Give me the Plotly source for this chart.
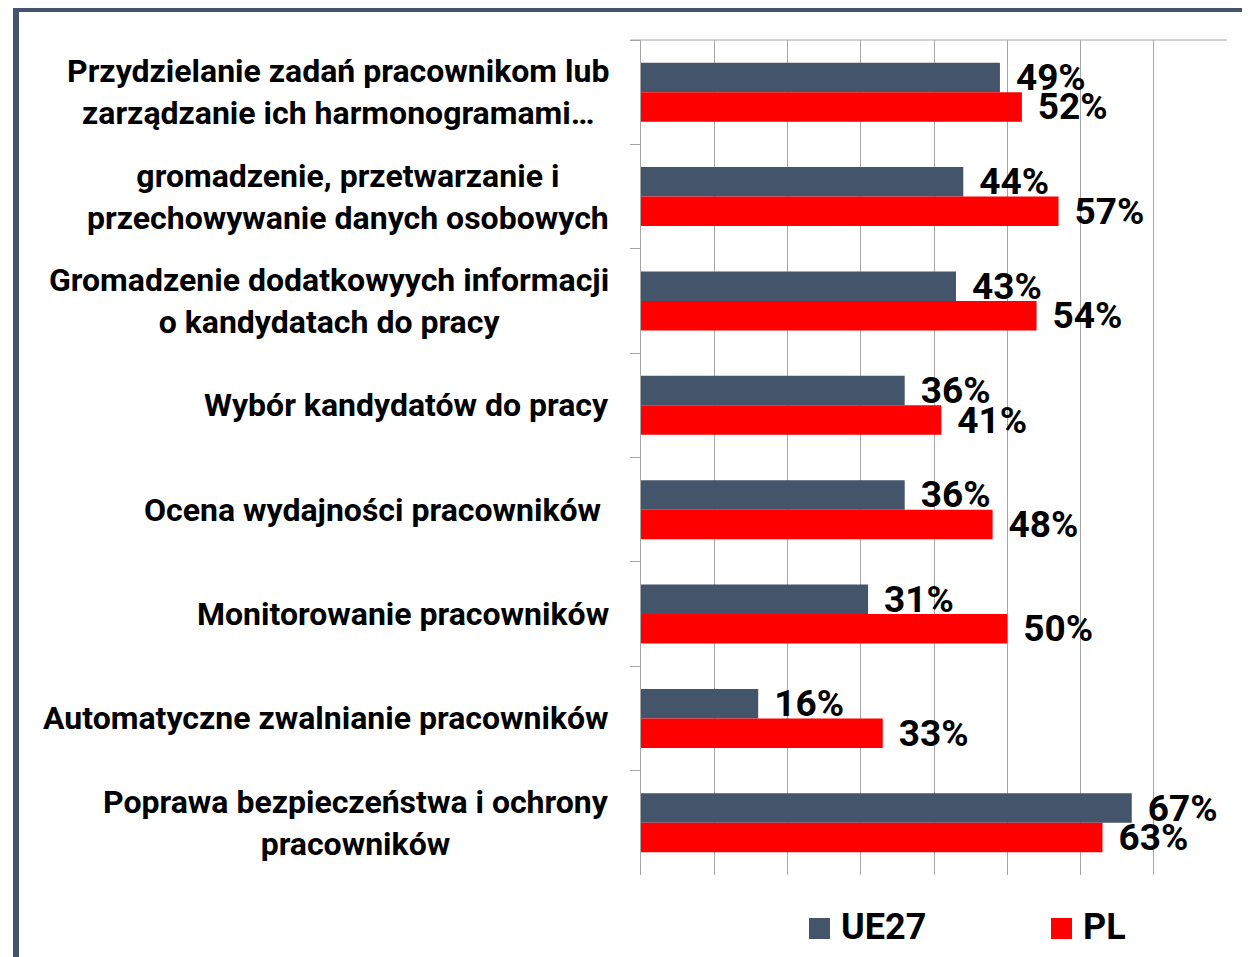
import plotly.graph_objects as go

# Data
CATS = [
    "Przydzielanie zadań pracownikom lub<br>zarządzanie ich harmonogramami…",
    "gromadzenie, przetwarzanie i<br>przechowywanie danych osobowych",
    "Gromadzenie dodatkowyych informacji<br>o kandydatach do pracy",
    "Wybór kandydatów do pracy",
    "Ocena wydajności pracowników ",
    "Monitorowanie pracowników",
    "Automatyczne zwalnianie pracowników",
    "Poprawa bezpieczeństwa i ochrony<br>pracowników",
]
UE27 = [49, 44, 43, 36, 36, 31, 16, 67]
PL = [52, 57, 54, 41, 48, 50, 33, 63]
SERIES = ["UE27", "PL"]

SLATE = "#44546A"
RED = "#FF0000"
GRID = "#A6A6A6"
FONT = "Roboto"

# page has an 8px body margin, so the figure is a bit smaller than the window
OFF = 8
W, H = 1250 - OFF, 957 - OFF
PX0, PX1, PY0, PY1 = 641, 1227, 40, 875   # plot area in window pixels
L, R, T, B = PX0 - OFF, W + OFF - PX1, PY0 - OFF, H + OFF - PY1


def fx(x):
    return (x - PX0) / (PX1 - PX0)


def fy(y):
    return (PY1 - y) / (PY1 - PY0)


fig = go.Figure()
for name, vals, clr in [("UE27", UE27, SLATE), ("PL", PL, RED)]:
    fig.add_trace(go.Bar(
        x=vals, y=CATS, name=name, orientation="h",
        marker=dict(color=clr, line=dict(width=0)),
        text=[f"\u00a0\u200a{v}%" for v in vals],
        textposition="outside",
        textfont=dict(family=FONT, size=37, color="black", weight="bold"),
        constraintext="none",
        cliponaxis=False,
        showlegend=False,
    ))

# category labels: right-aligned block, centered lines
for c in CATS:
    fig.add_annotation(
        x=fx(611), xref="paper", y=c, yref="y",
        text=c, showarrow=False,
        xanchor="right", yanchor="middle", align="center",
        font=dict(family=FONT, size=32, color="black", weight="bold"),
    )

# legend drawn by hand
leg = [(SERIES[0], SLATE, 809, 839), (SERIES[1], RED, 1051, 1081)]
for name, clr, sx, tx in leg:
    fig.add_shape(type="rect", xref="paper", yref="paper",
                  x0=fx(sx), x1=fx(sx + 21), y0=fy(939), y1=fy(918),
                  fillcolor=clr, line=dict(width=0))
    fig.add_annotation(x=fx(tx), xref="paper", y=fy(927), yref="paper",
                       text=name, showarrow=False, xanchor="left", yanchor="middle",
                       font=dict(family=FONT, size=36, color="black", weight="bold"))

# top line of plot area
fig.add_shape(type="line", xref="paper", yref="paper",
              x0=fx(631), x1=1, y0=1, y1=1,
              line=dict(color=GRID, width=1))

# outer frame (left + top)
fig.add_shape(type="line", xref="paper", yref="paper",
              x0=fx(16), x1=fx(16), y0=fy(965), y1=fy(6),
              line=dict(color=SLATE, width=6))
fig.add_shape(type="line", xref="paper", yref="paper",
              x0=fx(13), x1=fx(1260), y0=fy(9), y1=fy(9),
              line=dict(color=SLATE, width=6))

fig.update_layout(
    width=W, height=H,
    margin=dict(l=L, r=R, t=T, b=B),
    paper_bgcolor="white", plot_bgcolor="white",
    barmode="group", bargap=0.435, bargroupgap=0,
    showlegend=False,
    font=dict(family=FONT),
)
fig.update_xaxes(range=[0, 80], dtick=10, showticklabels=False,
                 showgrid=True, gridcolor=GRID, gridwidth=1,
                 zeroline=False, showline=False, fixedrange=True)
fig.update_yaxes(autorange="reversed", showticklabels=False,
                 showgrid=False, showline=True, linecolor=GRID, linewidth=1,
                 ticks="outside", ticklen=10, tickcolor=GRID, tickson="boundaries",
                 fixedrange=True)

fig.write_html("out.html")
